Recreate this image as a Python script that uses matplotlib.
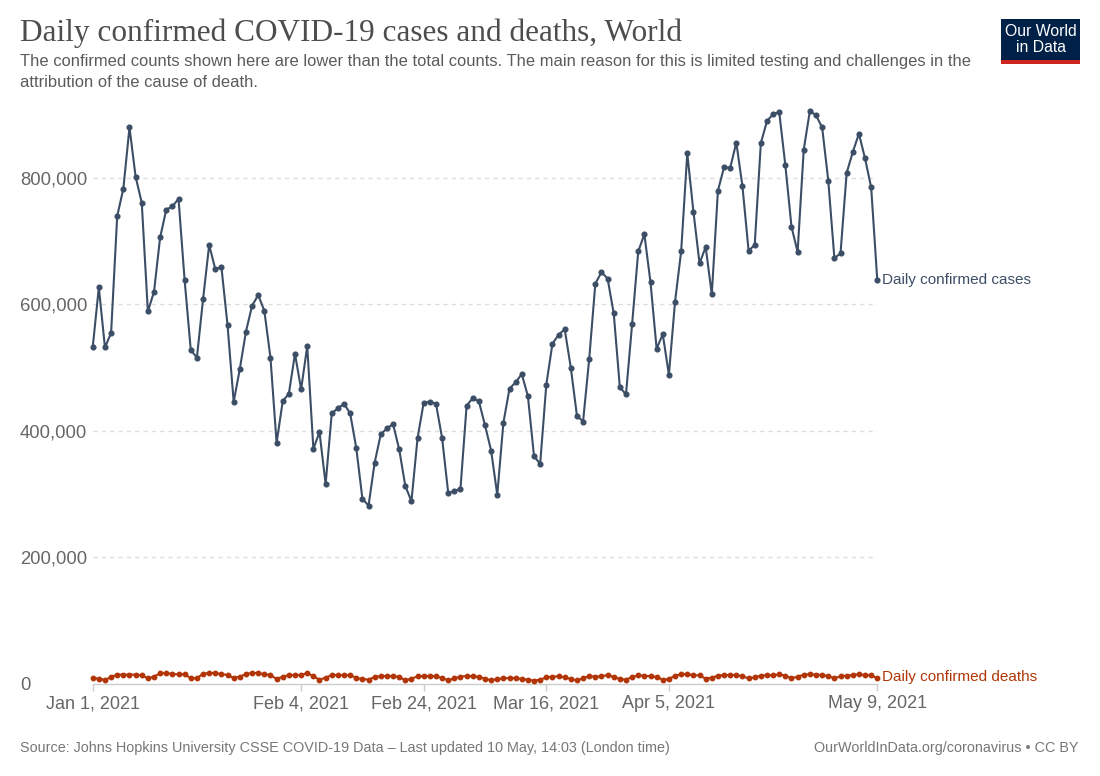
import numpy as np
import pandas as pd
import matplotlib
matplotlib.use('Agg')
import matplotlib.pyplot as plt
from matplotlib.patches import Rectangle

# dados (valores diarios, 1 jan a 9 mai 2021)
datas = pd.date_range('2021-01-01', '2021-05-09', freq='D')

casos_mil = [532, 627, 532, 555, 740, 783, 880, 802, 761, 589,
             620, 706, 750, 755, 767, 638, 528, 516, 608, 694,
             656, 659, 567, 446, 498, 557, 598, 615, 590, 516,
             381, 447, 459, 522, 466, 534, 372, 398, 316, 428,
             436, 443, 428, 373, 293, 282, 350, 395, 404, 411,
             371, 313, 289, 389, 445, 446, 443, 389, 302, 305,
             309, 440, 452, 447, 409, 369, 299, 413, 467, 477,
             490, 455, 360, 348, 473, 538, 552, 561, 500, 424,
             415, 514, 633, 651, 641, 586, 469, 458, 569, 684,
             711, 635, 530, 553, 489, 604, 684, 839, 747, 665,
             691, 616, 780, 817, 816, 856, 787, 685, 694, 855,
             890, 901, 904, 820, 723, 683, 845, 906, 899, 880,
             796, 673, 681, 808, 841, 870, 831, 785, 638]

mortes_mil = [9.5, 8.4, 6.3, 11.1, 14.8, 14.8, 14.8, 14.8, 13.7, 9.0,
              11.6, 16.9, 17.4, 15.8, 15.3, 15.3, 9.0, 9.0, 16.3, 17.4,
              17.4, 15.8, 14.2, 9.5, 11.6, 15.8, 17.4, 17.4, 15.3, 14.2,
              7.9, 11.6, 14.2, 14.2, 14.2, 17.4, 12.1, 6.9, 10.0, 14.2,
              14.2, 13.7, 14.2, 9.5, 7.9, 6.9, 11.1, 12.6, 12.6, 12.6,
              11.1, 5.8, 8.4, 12.1, 12.6, 12.6, 12.1, 9.5, 5.8, 9.0,
              11.6, 12.6, 12.6, 11.1, 8.4, 5.8, 7.9, 9.0, 9.5, 9.5,
              7.9, 6.9, 5.3, 6.9, 10.5, 11.6, 12.1, 10.5, 7.9, 5.8,
              9.0, 12.6, 11.6, 12.1, 14.2, 11.1, 7.9, 6.9, 11.1, 13.7,
              13.2, 12.1, 11.1, 6.9, 7.9, 13.2, 15.3, 15.8, 13.7, 13.7,
              8.4, 10.0, 13.2, 14.2, 14.2, 14.2, 12.1, 9.0, 10.5, 13.2,
              13.7, 13.7, 15.3, 13.2, 9.0, 11.6, 14.8, 15.3, 14.8, 14.2,
              12.6, 9.0, 12.1, 13.2, 14.2, 15.3, 14.2, 13.7, 9.0]

casos = np.array(casos_mil) * 1000
mortes = np.array(mortes_mil) * 1000

ticks_y = [0, 200000, 400000, 600000, 800000]
rotulos_y = ['0', '200,000', '400,000', '600,000', '800,000']
ticks_x = ['2021-01-01', '2021-02-04', '2021-02-24', '2021-03-16', '2021-04-05', '2021-05-09']
rotulos_x = ['Jan 1, 2021', 'Feb 4, 2021', 'Feb 24, 2021', 'Mar 16, 2021', 'Apr 5, 2021', 'May 9, 2021']

titulo = 'Daily confirmed COVID-19 cases and deaths, World'
subtitulo = ('The confirmed counts shown here are lower than the total counts. The main reason for this is limited testing and challenges in the\n'
             'attribution of the cause of death.')
fonte = 'Source: Johns Hopkins University CSSE COVID-19 Data \u2013 Last updated 10 May, 14:03 (London time)'
licenca = 'OurWorldInData.org/coronavirus \u2022 CC BY'

cor_casos = '#3c4e66'
cor_mortes = '#b13507'
cinza = '#5b5b5b'

plt.rcParams['font.family'] = ['Liberation Sans', 'DejaVu Sans']

W, H = 1100, 776
fig = plt.figure(figsize=(W / 100, H / 100), dpi=100)

# area do grafico em pixels
x0, x1 = 92.7, 877.3
y_base, y_top = 684.0, 108.4
ax = fig.add_axes([x0 / W, 1 - y_base / H, (x1 - x0) / W, (y_base - y_top) / H])

ax.plot(datas, casos, color=cor_casos, lw=1.5, marker='o', ms=3.4, clip_on=False, zorder=3)
ax.plot(datas, mortes, color=cor_mortes, lw=1.5, marker='o', ms=3.2, clip_on=False, zorder=3)

ax.set_xlim(datas[0], datas[-1])
ax.set_ylim(0, 910000)

for s in ['top', 'right', 'left']:
    ax.spines[s].set_visible(False)
ax.spines['bottom'].set_color('#cccccc')
ax.spines['bottom'].set_linewidth(1)

ax.set_yticks(ticks_y)
ax.set_yticklabels(rotulos_y)
ax.tick_params(axis='y', length=0, pad=52.3, labelsize=13.3, labelcolor='#666666')
for t in ax.get_yticklabels():
    t.set_horizontalalignment('left')
for v in ticks_y[1:]:
    ax.axhline(v, color='#dddddd', lw=1, ls=(0, (3, 3)), zorder=1)

ax.set_xticks([pd.Timestamp(d) for d in ticks_x])
ax.set_xticklabels(rotulos_x)
ax.tick_params(axis='x', length=5, width=1, color='#cccccc', pad=3, labelsize=13, labelcolor='#666666')

# rotulos no fim das linhas
ax.annotate('Daily confirmed cases', xy=(datas[-1], casos[-1]), xytext=(5, 0),
            textcoords='offset pixels', va='center', ha='left', fontsize=11, color=cor_casos)
ax.annotate('Daily confirmed deaths', xy=(datas[-1], mortes[-1]), xytext=(5, 1),
            textcoords='offset pixels', va='center', ha='left', fontsize=11, color=cor_mortes)

# titulo e subtitulo
fig.text(20 / W, 1 - 33 / H, titulo, family=['Liberation Serif'], fontsize=22.5,
         color='#4d4d4d', va='center', ha='left')
fig.text(20 / W, 1 - 54 / H, subtitulo, fontsize=11.9, color=cinza, va='top', ha='left',
         linespacing=1.5)

# rodape
fig.text(20 / W, 1 - 748 / H, fonte, fontsize=10.4, color='#777777', va='center', ha='left')
fig.text(1078 / W, 1 - 748 / H, licenca, fontsize=10.4, color='#777777', va='center', ha='right')

# logo
fig.patches.append(Rectangle((1001 / W, 1 - 64 / H), 79 / W, 45 / H, transform=fig.transFigure,
                             facecolor='#002147', edgecolor='none'))
fig.patches.append(Rectangle((1001 / W, 1 - 64 / H), 79 / W, 4.5 / H, transform=fig.transFigure,
                             facecolor='#ce261e', edgecolor='none'))
fig.text(1040.5 / W, 1 - 31.5 / H, 'Our World', fontsize=11.3, color='white', ha='center', va='center')
fig.text(1040.5 / W, 1 - 48 / H, 'in Data', fontsize=11.3, color='white', ha='center', va='center')

fig.savefig('out.png', dpi=100)
